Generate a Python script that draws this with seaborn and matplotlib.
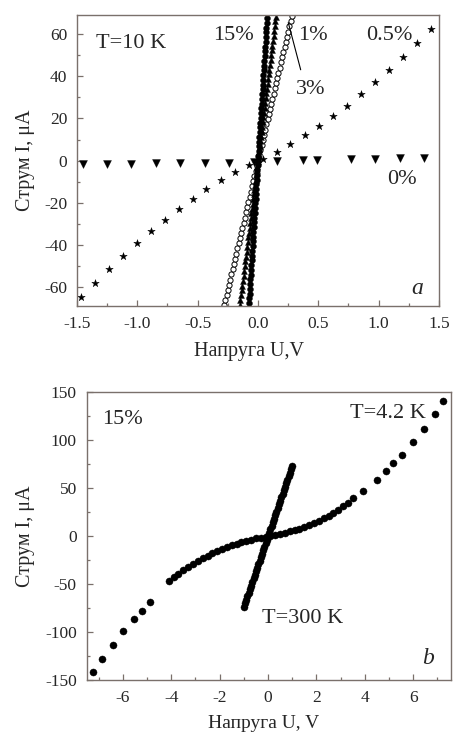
import numpy as np
import pandas as pd
import matplotlib
matplotlib.use("Agg")
import matplotlib.pyplot as plt
import seaborn as sns
from matplotlib.ticker import MultipleLocator

# ---- panel a: T = 10 K, I-V for different doping ----
V_0 = [-1.45, -1.25, -1.05, -0.845, -0.643, -0.44, -0.24, -0.035, 0.16, 0.37, 0.49, 0.77, 0.97, 1.18, 1.375]
I_0 = [-1.6, -1.5, -1.4, -1.3, -1.2, -1.1, -0.9, -0.6, 0.0, 0.3, 0.4, 0.7, 0.9, 1.1, 1.3]

V_05 = [-1.467, -1.353, -1.237, -1.121, -1.002, -0.889, -0.770, -0.657, -0.541, -0.427, -0.308, -0.192, -0.076,
        0.043, 0.159, 0.269, 0.388, 0.504, 0.621, 0.734, 0.850, 0.966, 1.085, 1.201, 1.315, 1.431]
I_05 = [-64.8, -58.0, -51.3, -45.0, -39.2, -33.3, -28.0, -22.7, -18.0, -13.4, -9.2, -5.4, -2.0,
        0.8, 4.1, 8.0, 12.2, 16.6, 21.2, 26.1, 31.4, 37.4, 42.8, 49.1, 55.8, 62.4]

V_1 = [-0.29, -0.28, -0.27, -0.26, -0.25, -0.24, -0.23, -0.22, -0.21, -0.20, -0.19, -0.18, -0.17, -0.16, -0.15,
       -0.14, -0.13, -0.12, -0.11, -0.10, -0.09, -0.08, -0.07, -0.06, -0.05, -0.04, -0.03, -0.02, -0.01, 0.0,
       0.01, 0.02, 0.03, 0.04, 0.05, 0.06, 0.07, 0.08, 0.09, 0.10, 0.11, 0.12, 0.13, 0.14, 0.15,
       0.16, 0.17, 0.18, 0.19, 0.20, 0.21, 0.22, 0.23, 0.24, 0.25, 0.26, 0.27, 0.28, 0.29]
I_1 = [-71.0, -68.6, -66.2, -63.7, -61.2, -58.8, -56.4, -53.9, -51.4, -49.0, -46.6, -44.1, -41.6, -39.2, -36.8,
       -34.3, -31.8, -29.4, -27.0, -24.5, -22.0, -19.6, -17.2, -14.7, -12.2, -9.8, -7.4, -4.9, -2.5, 0.0,
       2.5, 4.9, 7.4, 9.8, 12.2, 14.7, 17.2, 19.6, 22.0, 24.5, 27.0, 29.4, 31.8, 34.3, 36.8,
       39.2, 41.6, 44.1, 46.6, 49.0, 51.4, 53.9, 56.4, 58.8, 61.2, 63.7, 66.2, 68.6, 71.0]

V_3 = [-0.155, -0.150, -0.145, -0.140, -0.135, -0.130, -0.125, -0.120, -0.115, -0.110, -0.105, -0.100, -0.095,
       -0.090, -0.085, -0.080, -0.075, -0.070, -0.065, -0.060, -0.055, -0.050, -0.045, -0.040, -0.035, -0.030,
       -0.025, -0.020, -0.015, -0.010, -0.005, 0.0, 0.005, 0.010, 0.015, 0.020, 0.025, 0.030, 0.035, 0.040,
       0.045, 0.050, 0.055, 0.060, 0.065, 0.070, 0.075, 0.080, 0.085, 0.090, 0.095, 0.100, 0.105, 0.110,
       0.115, 0.120, 0.125, 0.130, 0.135, 0.140, 0.145, 0.150, 0.155]
I_3 = [-70.5, -68.3, -66.0, -63.7, -61.4, -59.2, -56.9, -54.6, -52.3, -50.1, -47.8, -45.5, -43.2,
       -41.0, -38.7, -36.4, -34.1, -31.9, -29.6, -27.3, -25.0, -22.8, -20.5, -18.2, -15.9, -13.7,
       -11.4, -9.1, -6.8, -4.6, -2.3, 0.0, 2.3, 4.6, 6.8, 9.1, 11.4, 13.7, 15.9, 18.2,
       20.5, 22.8, 25.0, 27.3, 29.6, 31.9, 34.1, 36.4, 38.7, 41.0, 43.2, 45.5, 47.8, 50.1,
       52.3, 54.6, 56.9, 59.2, 61.4, 63.7, 66.0, 68.3, 70.5]

V_15 = [-0.0775, -0.075, -0.0725, -0.07, -0.0675, -0.065, -0.0625, -0.06, -0.0575, -0.055, -0.0525, -0.05,
        -0.0475, -0.045, -0.0425, -0.04, -0.0375, -0.035, -0.0325, -0.03, -0.0275, -0.025, -0.0225, -0.02,
        -0.0175, -0.015, -0.0125, -0.01, -0.0075, -0.005, -0.0025, 0.0, 0.0025, 0.005, 0.0075, 0.01, 0.0125,
        0.015, 0.0175, 0.02, 0.0225, 0.025, 0.0275, 0.03, 0.0325, 0.035, 0.0375, 0.04, 0.0425, 0.045, 0.0475,
        0.05, 0.0525, 0.055, 0.0575, 0.06, 0.0625, 0.065, 0.0675, 0.07, 0.0725, 0.075, 0.0775]
I_15 = [-69.8, -67.5, -65.2, -63.0, -60.8, -58.5, -56.2, -54.0, -51.8, -49.5, -47.2, -45.0,
        -42.8, -40.5, -38.2, -36.0, -33.8, -31.5, -29.2, -27.0, -24.8, -22.5, -20.2, -18.0,
        -15.8, -13.5, -11.2, -9.0, -6.8, -4.5, -2.2, 0.0, 2.2, 4.5, 6.8, 9.0, 11.2,
        13.5, 15.8, 18.0, 20.2, 22.5, 24.8, 27.0, 29.2, 31.5, 33.8, 36.0, 38.2, 40.5, 42.8,
        45.0, 47.2, 49.5, 51.8, 54.0, 56.2, 58.5, 60.8, 63.0, 65.2, 67.5, 69.8]

# ---- panel b: 15%, T = 4.2 K and T = 300 K ----
V_42 = [-7.24, -6.87, -6.41, -6.0, -5.52, -5.22, -4.87,
        -4.1, -3.9, -3.7, -3.5, -3.3, -3.1, -2.9, -2.7, -2.5, -2.3, -2.1, -1.9, -1.7, -1.5, -1.3, -1.1,
        -0.9, -0.7, -0.5, -0.3, -0.1, 0.1, 0.3, 0.5, 0.7, 0.9, 1.1, 1.3, 1.5, 1.7, 1.9, 2.1, 2.3, 2.5,
        2.7, 2.9, 3.1, 3.3, 3.5,
        3.94, 4.49, 4.89, 5.17, 5.53, 6.0, 6.43, 6.88, 7.25]
I_42 = [-142.0, -128.0, -113.0, -98.7, -86.6, -77.9, -68.6,
        -47.0, -43.0, -39.0, -35.5, -32.0, -29.0, -26.0, -23.0, -20.5, -18.0, -15.5, -13.5, -11.5, -9.5, -7.8, -6.2,
        -4.8, -3.5, -2.4, -1.4, -0.5, 0.5, 1.5, 2.5, 3.6, 4.9, 6.3, 7.9, 9.6, 11.6, 13.8, 16.2, 18.8, 21.5,
        24.5, 27.6, 31.0, 35.0, 39.5,
        47.5, 58.9, 67.9, 76.2, 84.9, 98.0, 111.9, 127.5, 141.3]

V_300 = [-1.0, -0.95, -0.9, -0.85, -0.8, -0.75, -0.7, -0.65, -0.6, -0.55, -0.5, -0.45, -0.4, -0.35, -0.3,
         -0.25, -0.2, -0.15, -0.1, -0.05, 0.0, 0.05, 0.1, 0.15, 0.2, 0.25, 0.3, 0.35, 0.4, 0.45, 0.5,
         0.55, 0.6, 0.65, 0.7, 0.75, 0.8, 0.85, 0.9, 0.95, 1.0]
I_300 = [-73.5, -69.8, -66.2, -62.5, -58.8, -55.1, -51.5, -47.8, -44.1, -40.4, -36.8, -33.1, -29.4, -25.7, -22.1,
         -18.4, -14.7, -11.0, -7.4, -3.7, 0.0, 3.7, 7.4, 11.0, 14.7, 18.4, 22.1, 25.7, 29.4, 33.1, 36.8,
         40.4, 44.1, 47.8, 51.5, 55.1, 58.8, 62.5, 66.2, 69.8, 73.5]

sns.set_style("ticks")
plt.rcParams["font.family"] = ["Liberation Serif", "DejaVu Serif"]
plt.rcParams["axes.unicode_minus"] = False

frame_col = "#7a706b"
tick_fs = 12.5
lab_fs = 14.5
txt_fs = 16

fig = plt.figure(figsize=(4.53, 7.36), dpi=100)
ax1 = fig.add_axes([0.170, 0.584, 0.799, 0.3954])
ax2 = fig.add_axes([0.191, 0.076, 0.804, 0.391])

# panel a
sns.scatterplot(x=V_0, y=I_0, marker="v", s=32, color="black", edgecolor="black", linewidth=0.3, ax=ax1)
sns.scatterplot(x=V_05, y=I_05, marker="*", s=32, color="black", edgecolor="black", linewidth=0.3, ax=ax1)
sns.scatterplot(x=V_1, y=I_1, marker="o", s=14, facecolor="white", edgecolor="black", linewidth=0.7, ax=ax1)
sns.scatterplot(x=V_3, y=I_3, marker="^", s=18, color="black", edgecolor="black", linewidth=0.3, ax=ax1)
sns.scatterplot(x=V_15, y=I_15, marker="o", s=18, color="black", edgecolor="black", linewidth=0.3, ax=ax1)

ax1.set_xlim(-1.5, 1.5)
ax1.set_ylim(-69, 69)
ax1.xaxis.set_minor_locator(MultipleLocator(0.25))
ax1.yaxis.set_minor_locator(MultipleLocator(10))
ax1.set_xticks([-1.5, -1.0, -0.5, 0.0, 0.5, 1.0, 1.5])
ax1.set_xticklabels(["-1.5", "-1.0", "-0.5", "0.0", "0.5", "1.0", "1.5"])
ax1.set_yticks([-60, -40, -20, 0, 20, 40, 60])
ax1.set_yticklabels(["-60", "-40", "-20", "0", "20", "40", "60"])

ax1.text(-1.345, 55.5, "T=10 K", fontsize=txt_fs, ha="left", va="center")
ax1.text(-0.203, 59.4, "15%", fontsize=txt_fs, ha="center", va="center")
ax1.text(0.329, 59.4, "1%", fontsize=txt_fs, ha="left", va="center")
ax1.text(0.894, 59.4, "0.5%", fontsize=txt_fs, ha="left", va="center")
ax1.text(0.44, 33.9, "3%", fontsize=txt_fs, ha="center", va="center")
ax1.text(1.193, -8.8, "0%", fontsize=txt_fs, ha="center", va="center")
ax1.text(1.322, -60.4, "a", fontsize=txt_fs + 1, style="italic", ha="center", va="center")
ax1.plot([0.354, 0.251], [43.1, 65.5], color="black", lw=0.8)

ax1.set_xlabel("Напруга U,V", fontsize=lab_fs)
ax1.set_ylabel("Струм I, μA", fontsize=lab_fs)
ax1.xaxis.set_label_coords(0.475, -0.124)
ax1.yaxis.set_label_coords(-0.116, 0.5)

# panel b
sns.scatterplot(x=V_300, y=I_300, marker="o", s=26, color="black", edgecolor="black", linewidth=0.3, ax=ax2)
sns.scatterplot(x=V_42, y=I_42, marker="o", s=26, color="black", edgecolor="black", linewidth=0.3, ax=ax2)

ax2.set_xlim(-7.5, 7.55)
ax2.set_ylim(-150, 150)
ax2.xaxis.set_major_locator(MultipleLocator(2))
ax2.xaxis.set_minor_locator(MultipleLocator(1))
ax2.yaxis.set_major_locator(MultipleLocator(50))
ax2.yaxis.set_minor_locator(MultipleLocator(25))

ax2.text(-6.02, 121.5, "15%", fontsize=txt_fs, ha="center", va="center")
ax2.text(4.95, 127.7, "T=4.2 K", fontsize=txt_fs, ha="center", va="center")
ax2.text(1.44, -86.3, "T=300 K", fontsize=txt_fs, ha="center", va="center")
ax2.text(6.6, -127.8, "b", fontsize=txt_fs + 1, style="italic", ha="center", va="center")

ax2.set_xlabel("Напруга U, V", fontsize=14)
ax2.set_ylabel("Струм I, μA", fontsize=lab_fs)
ax2.xaxis.set_label_coords(0.485, -0.122)
ax2.yaxis.set_label_coords(-0.142, 0.5)

for ax in (ax1, ax2):
    for sp in ax.spines.values():
        sp.set_color(frame_col)
        sp.set_linewidth(1.0)
    ax.tick_params(which="both", direction="in", top=False, right=False, color=frame_col,
                   labelsize=tick_fs, pad=7)
    ax.tick_params(which="major", length=4.5, width=0.9)
    ax.tick_params(which="minor", length=2.5, width=0.9)

fig.savefig("out.png", dpi=100)
